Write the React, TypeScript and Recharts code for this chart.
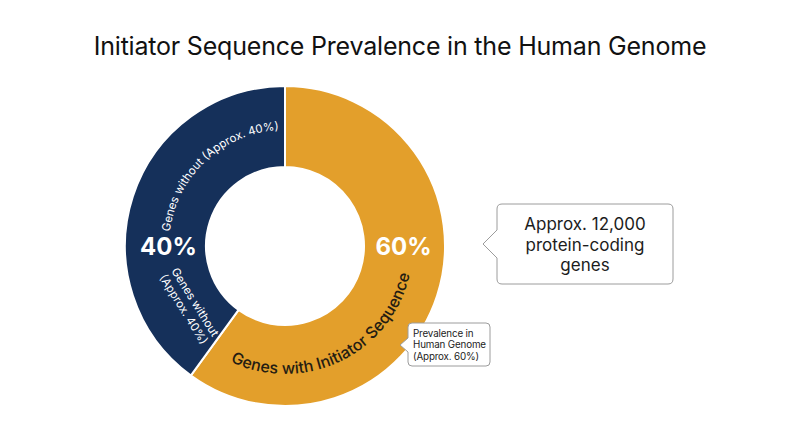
import React from 'react';
import { PieChart, Pie, Cell } from 'recharts';

const categories = ['Genes with Initiator Sequence', 'Genes without Initiator Sequence'];
const shares = [60, 40];
const sliceColors = ['#E39F2B', '#15305A'];
const arcLabels = ['Genes with Initiator Sequence', 'Genes without (Approx. 40%)'];
const sideLabel = ['Genes without', '(Approx. 40%)'];
const calloutMain = ['Approx. 12,000', 'protein-coding', 'genes'];
const calloutSmall = ['Prevalence in', 'Human Genome', '(Approx. 60%)'];

const data = categories.map((name, i) => ({ name, value: shares[i] }));

const FONT = 'Inter, "Noto Sans", sans-serif';
const RAD = Math.PI / 180;

// angle in degrees, counter-clockwise from 3 o'clock
const pt = (cx: number, cy: number, r: number, deg: number) => [
  cx + r * Math.cos(deg * RAD),
  cy - r * Math.sin(deg * RAD),
];

const arcPath = (cx: number, cy: number, r: number, a1: number, a2: number) => {
  const [x1, y1] = pt(cx, cy, r, a1);
  const [x2, y2] = pt(cx, cy, r, a2);
  const large = Math.abs(a2 - a1) > 180 ? 1 : 0;
  const sweep = a2 > a1 ? 0 : 1;
  return `M${x1},${y1} A${r},${r} 0 ${large} ${sweep} ${x2},${y2}`;
};

const renderLabel = (props: any) => {
  const { cx, cy, innerRadius, outerRadius, index, percent } = props;
  const mid = (innerRadius + outerRadius) / 2;
  const pct = `${Math.round(percent * 100)}%`;

  if (index === 0) {
    const [px, py] = pt(cx, cy, mid - 1, 0);
    return (
      <g>
        <text x={px} y={py} fill="#fff" fontSize={24} fontWeight={700} fontFamily={FONT}
          textAnchor="middle" dominantBaseline="central">{pct}</text>
        <path id="arc-with" d={arcPath(cx, cy, 128, -134, 6)} fill="none" />
        <text fontSize={16} fontWeight={500} fill="#241c12" fontFamily={FONT}>
          <textPath href="#arc-with" startOffset="50%" textAnchor="middle">{arcLabels[0]}</textPath>
        </text>
      </g>
    );
  }

  const [px, py] = pt(cx, cy, mid - 3, 180);
  const [sx, sy] = pt(cx, cy, 112, 212);
  return (
    <g>
      <text x={px} y={py} fill="#fff" fontSize={24} fontWeight={700} fontFamily={FONT}
        textAnchor="middle" dominantBaseline="central">{pct}</text>
      <path id="arc-without" d={arcPath(cx, cy, 116, 200, 66)} fill="none" />
      <text fontSize={11.5} fill="#fff" fontFamily={FONT}>
        <textPath href="#arc-without" startOffset="50%" textAnchor="middle">{arcLabels[1]}</textPath>
      </text>
      <text x={sx} y={sy} fill="#fff" fontSize={11.5} fontFamily={FONT} textAnchor="middle"
        transform={`rotate(${270 - 212}, ${sx}, ${sy})`}>
        <tspan x={sx} dy={-2}>{sideLabel[0]}</tspan>
        <tspan x={sx} dy={13.5}>{sideLabel[1]}</tspan>
      </text>
    </g>
  );
};

const Callouts = () => (
  <svg width={800} height={447} style={{ position: 'absolute', left: 0, top: 0, pointerEvents: 'none' }}>
    <text x={400} y={46} textAnchor="middle" dominantBaseline="central" fontSize={25}
      fill="#111" fontFamily={FONT} letterSpacing={-0.2}>Initiator Sequence Prevalence in the Human Genome</text>

    <path d="M502,204 H668 Q673,204 673,209 V279 Q673,284 668,284 H502 Q497,284 497,279 V258 L483,244 L497,230 V209 Q497,204 502,204 Z"
      fill="#fff" stroke="#9c9c9c" strokeWidth={1} />
    {calloutMain.map((t, i) => (
      <text key={t} x={585} y={224 + i * 20.5} textAnchor="middle" dominantBaseline="central"
        fontSize={17} fill="#1c1c1c" fontFamily={FONT}>{t}</text>
    ))}

    <path d="M412,323 H486 Q490,323 490,327 V362 Q490,366 486,366 H412 Q408,366 408,362 V352 L400,345 L408,338 V327 Q408,323 412,323 Z"
      fill="#fff" stroke="#9c9c9c" strokeWidth={1} />
    {calloutSmall.map((t, i) => (
      <text key={t} x={413} y={333 + i * 11.5} dominantBaseline="central"
        fontSize={9.8} fill="#1c1c1c" fontFamily={FONT} letterSpacing={-0.15}>{t}</text>
    ))}
  </svg>
);

export default function App() {
  return (
    <div style={{ position: 'absolute', left: 0, top: 0, width: 800, height: 447, background: '#fff' }}>
      <PieChart width={800} height={447} margin={{ top: 0, right: 0, bottom: 0, left: 0 }}>
        <Pie
          data={data}
          dataKey="value"
          nameKey="name"
          cx={285}
          cy={246}
          innerRadius={79}
          outerRadius={160}
          startAngle={90}
          endAngle={-270}
          label={renderLabel}
          labelLine={false}
          isAnimationActive={false}
        >
          {data.map((d, i) => (
            <Cell key={d.name} fill={sliceColors[i]} stroke="#fff" strokeWidth={2} />
          ))}
        </Pie>
      </PieChart>
      <Callouts />
    </div>
  );
}
